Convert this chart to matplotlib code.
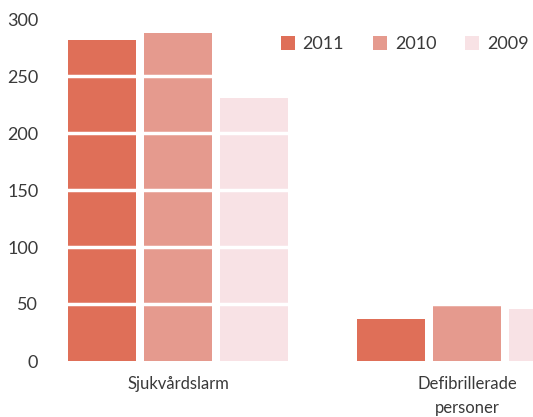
import numpy as np
import matplotlib.pyplot as plt
from matplotlib.patches import Patch

# data
categories = ['Sjukvårdslarm', 'Defibrillerade\npersoner']
years = ['2011', '2010', '2009']
values_2011 = [282, 37]
values_2010 = [288, 49]
values_2009 = [231, 46]
colors = ['#df6f58', '#e59a8e', '#f8e2e5']

plt.rcParams['font.family'] = ['Lato', 'DejaVu Sans']
txt_col = '#3a3a3a'

fig = plt.figure(figsize=(5.33, 4.17), dpi=100)
ax = fig.add_axes([55 / 533, 56 / 417, 478 / 533, 351 / 417])

x = np.arange(len(categories))
step = 76 / 289
width = 68 / 289
series = [values_2011, values_2010, values_2009]
for i, vals in enumerate(series):
    ax.bar(x + (i - 1) * step, vals, width, color=colors[i], zorder=2)

# white horizontal lines cutting through the bars
for yv in range(50, 301, 50):
    ax.axhline(yv, color='white', lw=2.5, zorder=3)

ax.set_xlim(-0.4256, 1.228)
ax.set_ylim(0, 351 / 1.14)
ax.set_yticks(range(0, 301, 50))
ax.set_xticks(x)
ax.set_xticklabels(categories, fontsize=12, color=txt_col, linespacing=1.6)
ax.tick_params(axis='y', labelsize=13, colors=txt_col, length=0, pad=12)
ax.tick_params(axis='x', length=0, pad=11)
for s in ax.spines.values():
    s.set_visible(False)

handles = [Patch(facecolor=c, edgecolor='none') for c in colors]
fig.legend(handles, years, loc='center left', bbox_to_anchor=(281 / 533, 1 - 44 / 417),
           ncol=3, frameon=False, handlelength=0.78, handleheight=0.78,
           handletextpad=0.42, columnspacing=1.6, borderpad=0, borderaxespad=0,
           prop={'size': 13}, labelcolor=txt_col)

plt.savefig('out.png', dpi=100)
